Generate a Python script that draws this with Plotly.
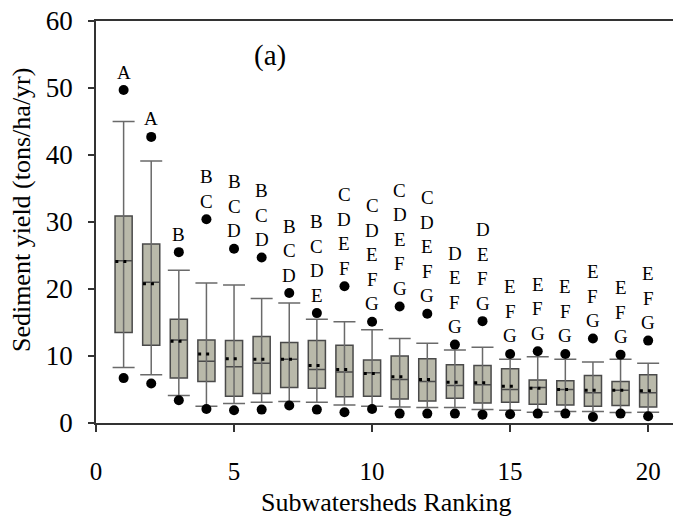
import plotly.graph_objects as go

ranks = list(range(1, 21))
upper_out = [49.7, 42.7, 25.5, 30.4, 26.0, 24.7, 19.4, 16.4, 20.4, 15.1, 17.4, 16.3, 11.7, 15.2, 10.3, 10.7, 10.3, 12.6, 10.2, 12.3]
upper_whisker = [45.0, 39.1, 22.8, 20.9, 20.6, 18.6, 17.9, 15.5, 15.1, 13.9, 12.6, 11.9, 10.9, 11.3, 9.5, 9.9, 9.5, 9.1, 9.5, 8.9]
q3 = [30.9, 26.7, 15.5, 12.4, 12.3, 12.9, 12.0, 12.3, 11.6, 9.4, 10.0, 9.6, 8.7, 8.6, 8.1, 6.4, 6.3, 7.1, 6.2, 7.2]
median = [24.2, 21.0, 12.4, 9.2, 8.4, 8.9, 9.5, 8.0, 7.6, 7.5, 6.5, 6.2, 5.6, 5.7, 5.0, 5.3, 5.0, 4.5, 4.9, 4.5]
mean = [24.1, 20.8, 12.2, 10.3, 9.6, 9.5, 9.5, 8.6, 8.0, 7.4, 6.9, 6.5, 6.1, 6.0, 5.5, 5.2, 5.0, 4.9, 4.9, 4.8]
q1 = [13.5, 11.6, 6.7, 6.2, 4.0, 4.4, 5.3, 5.2, 3.9, 4.0, 3.6, 3.3, 3.7, 3.0, 3.1, 2.8, 2.7, 2.5, 2.6, 2.4]
lower_whisker = [8.3, 7.2, 4.1, 2.5, 2.9, 3.1, 3.2, 3.1, 2.7, 2.5, 2.4, 2.3, 2.3, 2.0, 1.9, 1.6, 1.7, 1.7, 1.55, 1.6]
lower_out = [6.7, 5.9, 3.4, 2.1, 1.9, 2.0, 2.6, 2.0, 1.6, 2.1, 1.4, 1.4, 1.4, 1.25, 1.3, 1.4, 1.4, 0.9, 1.4, 1.0]
groups = ["A", "A", "B", "BC", "BCD", "BCD", "BCD", "BCDE", "CDEF", "CDEFG",
          "CDEFG", "CDEFG", "DEFG", "DEFG", "EFG", "EFG", "EFG", "EFG", "EFG", "EFG"]
x_ticks = [0, 5, 10, 15, 20]
y_ticks = [0, 10, 20, 30, 40, 50, 60]

FONT = "Liberation Serif, Times New Roman, serif"
fig = go.Figure()

# whiskers + caps (drawn under the boxes)
fig.add_trace(go.Scatter(
    x=ranks, y=median, mode="markers",
    marker=dict(size=1, color="rgba(0,0,0,0)"),
    error_y=dict(type="data", symmetric=False,
                 array=[u - m for u, m in zip(upper_whisker, median)],
                 arrayminus=[m - l for m, l in zip(median, lower_whisker)],
                 width=11, thickness=1.5, color="#6a6a6a"),
    showlegend=False, hoverinfo="skip"))

fig.add_trace(go.Box(
    x=ranks, q1=q1, median=median, q3=q3,
    lowerfence=q1, upperfence=q3,
    width=0.62, boxpoints=False, whiskerwidth=0,
    fillcolor="#b9b9aa", line=dict(color="#4a4a4a", width=1.5),
    showlegend=False))

# mean as dotted line (two dots)
mx, my = [], []
for r, m in zip(ranks, mean):
    mx += [r - 0.3, r + 0.1, None]
    my += [m, m, None]
fig.add_trace(go.Scatter(x=mx, y=my, mode="lines",
                         line=dict(color="black", width=3, dash="3px,5px"),
                         showlegend=False, hoverinfo="skip"))

# outliers
fig.add_trace(go.Scatter(x=ranks + ranks, y=upper_out + lower_out, mode="markers",
                         marker=dict(size=10, color="black"),
                         showlegend=False))

annotations = []
for r, top, g in zip(ranks, upper_out, groups):
    n = len(g)
    for i, ch in enumerate(g):
        annotations.append(dict(
            x=r, y=top, text=ch, showarrow=False, xref="x", yref="y",
            yanchor="middle", xanchor="center",
            yshift=18 + (n - 1 - i) * 24.5,
            font=dict(family=FONT, size=19, color="black")))

annotations.append(dict(x=6.3, y=54.9, text="(a)", showarrow=False, xref="x", yref="y",
                        font=dict(family=FONT, size=29, color="black")))
annotations.append(dict(x=-0.128, y=0.53, xref="paper", yref="paper", text="Sediment yield (tons/ha/yr)",
                        textangle=-90, showarrow=False, xanchor="center", yanchor="middle",
                        font=dict(family=FONT, size=26, color="black")))
annotations.append(dict(x=0.5026, y=-0.237, xref="paper", yref="paper", text="Subwatersheds Ranking",
                        showarrow=False, xanchor="center", yanchor="bottom", borderpad=0,
                        font=dict(family=FONT, size=26, color="black")))

fig.update_layout(
    width=673, height=518,
    margin=dict(l=96, r=0, t=21, b=95),
    paper_bgcolor="white", plot_bgcolor="white",
    font=dict(family=FONT, color="black"),
    annotations=annotations,
    xaxis=dict(range=[0, 20.9], tickvals=x_ticks, ticks="outside", ticklen=7,
               tickcolor="#333", tickwidth=1.5,
               showline=True, linecolor="#333", linewidth=1.5, mirror=True,
               showgrid=False, zeroline=False,
               tickfont=dict(family=FONT, size=25), ticklabelstandoff=18),
    yaxis=dict(range=[0, 60], tickvals=y_ticks, ticks="outside", ticklen=6,
               tickcolor="#333", tickwidth=1.5,
               showline=True, linecolor="#333", linewidth=1.5,
               showgrid=False, zeroline=False,
               tickfont=dict(family=FONT, size=27), ticklabelstandoff=10),
)

fig.write_html("out.html")
